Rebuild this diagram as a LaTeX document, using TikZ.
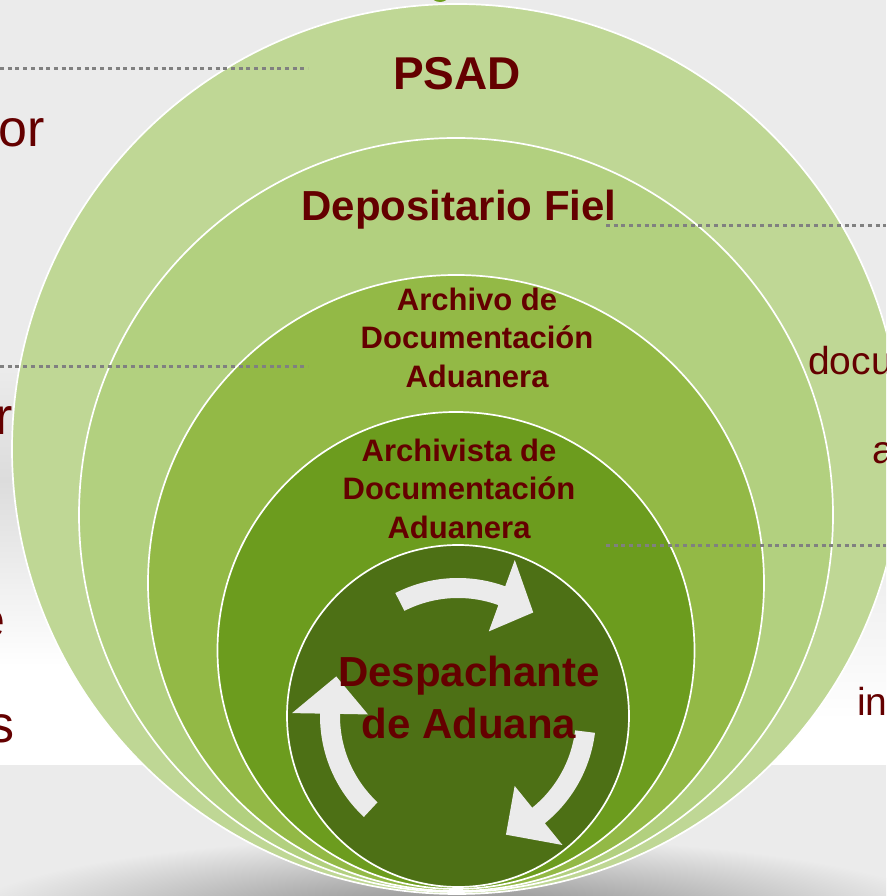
\documentclass[tikz,border=0pt]{standalone}
\usepackage{fontspec}
\setmainfont{Liberation Sans}
\usetikzlibrary{calc}

\definecolor{bggray}{HTML}{EBEBEB}
\definecolor{bandgray}{HTML}{DCDCDC}
\definecolor{shadowgray}{HTML}{7E7E7E}
\definecolor{ringA}{HTML}{BFD795}
\definecolor{ringB}{HTML}{B2D07F}
\definecolor{ringC}{HTML}{93B946}
\definecolor{ringD}{HTML}{6C9C1E}
\definecolor{ringE}{HTML}{4D7015}
\definecolor{topgreen}{HTML}{6FA020}
\definecolor{labelred}{HTML}{640000}
\definecolor{dotgray}{HTML}{808080}

\begin{document}
\begin{tikzpicture}[line cap=round,line join=round,x=1pt,y=1pt,
  ring/.style={draw=white, line width=1.7pt},
  dotline/.style={dotgray, line width=3pt, line cap=butt, dash pattern=on 4pt off 3.7pt},
  cyclearrow/.style={fill=bggray},
  bigname/.style={text=labelred, inner sep=0pt, font=\bfseries\fontsize{46}{50}\selectfont},
  ringname/.style={text=labelred, inner sep=0pt, align=center, font=\bfseries\fontsize{42}{52}\selectfont},
  smallname/.style={text=labelred, inner sep=0pt, align=center, font=\bfseries\fontsize{31}{38.5}\selectfont},
  sideleft/.style={text=labelred, inner sep=0pt, font=\fontsize{52}{60}\selectfont},
  sideright/.style={text=labelred, inner sep=0pt, font=\fontsize{39}{44}\selectfont}]
\useasboundingbox (0,0) rectangle (886,896);
\clip (0,0) rectangle (886,896);

% background
\fill[bggray] (0,0) rectangle (886,896);
\shade[top color=bggray, bottom color=bandgray] (0,416) rectangle (460,527);
\shade[top color=bandgray, bottom color=white] (0,230) rectangle (460,416);
\fill[white] (0,131) rectangle (460,230);
\shade[top color=bggray, bottom color=white] (460,176) rectangle (886,348);
\fill[white] (460,131) rectangle (886,176);
\shade[inner color=shadowgray, outer color=bggray] (457,-25) ellipse [x radius=500, y radius=85];
\fill[topgreen] (440,901) ellipse [x radius=9, y radius=7];

\coordinate (psadC) at (457,447);
\coordinate (fielC) at (456,381);
\coordinate (archC) at (456,313);
\coordinate (archiC) at (456,245.5);
\coordinate (despC) at (458,180);

% rings
\draw[ring, fill=ringA] (psadC) circle [radius=445];
\draw[ring, fill=ringB] (fielC) circle [radius=377];
\draw[ring, fill=ringC] (archC) circle [radius=308];
\draw[ring, fill=ringD] (archiC) circle [radius=238.5];
\draw[ring, fill=ringE] (despC) circle [radius=171];

% cycle arrows
\fill[cyclearrow] ($(despC)+(117:138)$) arc[start angle=117, end angle=70, radius=138]
  -- ($(despC)+(70:166)$) -- ($(despC)+(54:128)$) -- ($(despC)+(70:90)$)
  -- ($(despC)+(70:118)$) arc[start angle=70, end angle=117, radius=118] -- cycle;
\fill[cyclearrow] ($(despC)+(-7:138)$) arc[start angle=-7, end angle=-51, radius=138]
  -- ($(despC)+(-51:166)$) -- ($(despC)+(-68:128)$) -- ($(despC)+(-51:90)$)
  -- ($(despC)+(-51:118)$) arc[start angle=-51, end angle=-7, radius=118] -- cycle;
\fill[cyclearrow] ($(despC)+(227:138)$) arc[start angle=227, end angle=179, radius=138]
  -- ($(despC)+(179:166)$) -- ($(despC)+(162:128)$) -- ($(despC)+(179:90)$)
  -- ($(despC)+(179:118)$) arc[start angle=179, end angle=227, radius=118] -- cycle;

% dotted leaders
\coordinate (leadA1) at (0,827);
\coordinate (leadA2) at (308,827);
\coordinate (leadB1) at (0,529);
\coordinate (leadB2) at (308,529);
\coordinate (leadC1) at (606,670);
\coordinate (leadC2) at (886,670);
\coordinate (leadD1) at (606,350);
\coordinate (leadD2) at (886,350);
\draw[dotline] (leadA1) -- (leadA2);
\draw[dotline] (leadB1) -- (leadB2);
\draw[dotline] (leadC1) -- (leadC2);
\draw[dotline] (leadD1) -- (leadD2);

% ring names
\node[bigname, anchor=base] (psad) at (457,806) {PSAD};
\node[ringname, anchor=base] (fiel) at (459,675) {Depositario Fiel};
\node[smallname] (archivo) at (477,558.5) {Archivo de\\Documentación\\Aduanera};
\node[smallname] (archivista) at (459,407.5) {Archivista de\\Documentación\\Aduanera};
\node[ringname] (despachante) at (469,199) {Despachante\\de Aduana};

% cut side texts
\node[sideleft, anchor=base east] (sideA) at (45,749) {or};
\node[sideleft, anchor=base east] (sideB) at (13,461) {r};
\node[sideleft, anchor=base east] (sideC) at (6,258) {e};
\node[sideleft, anchor=base east] (sideD) at (15,153) {s};
\node[sideright, anchor=base west] (sideE) at (808,521) {docu};
\node[sideright, anchor=base west] (sideF) at (872,432) {a};
\node[sideright, anchor=base west] (sideG) at (857,180) {in};

\end{tikzpicture}
\end{document}
